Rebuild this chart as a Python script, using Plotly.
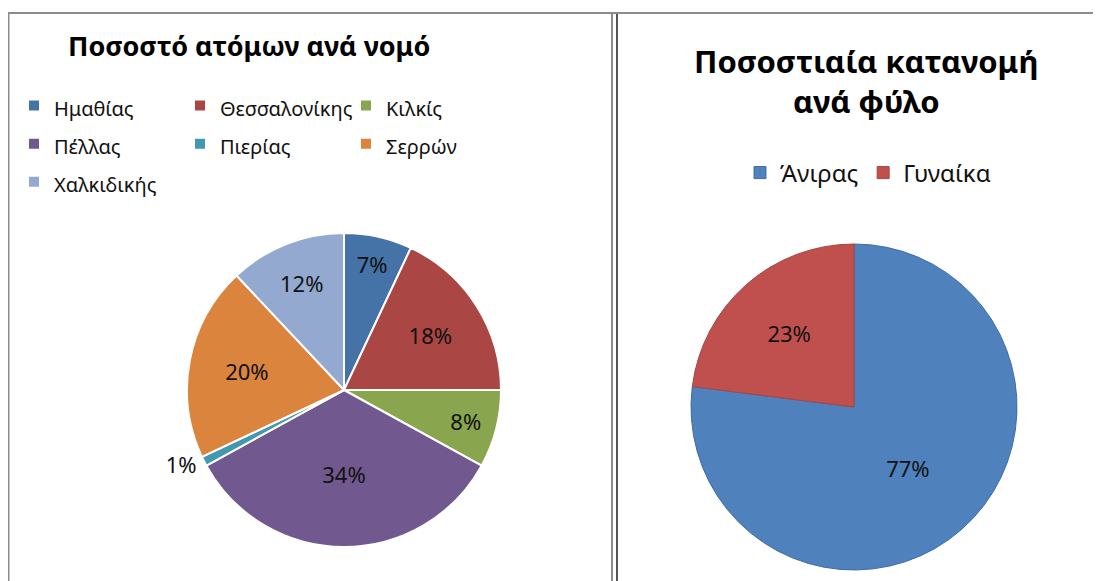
import plotly.graph_objects as go

# ---- data ----
region_labels = ["Ημαθίας", "Θεσσαλονίκης", "Κιλκίς", "Πέλλας", "Πιερίας", "Σερρών", "Χαλκιδικής"]
region_values = [7, 18, 8, 34, 1, 20, 12]
region_colors = ["#4572A7", "#AA4643", "#89A54E", "#71588F", "#4198AF", "#DB843D", "#93A9CF"]

gender_labels = ["Άνιρας", "Γυναίκα"]
gender_values = [77, 23]
gender_colors = ["#4F81BD", "#C0504D"]

title_left = "Ποσοστό ατόμων ανά νομό"
title_right = "Ποσοστιαία κατανομή<br>ανά φύλο"

W, H = 1101, 581
ML = 6                      # left margin (px)
PW = W - ML                 # plot-area width
FONT = "Noto Sans"


def px(x):
    return (x - ML) / PW


def py(y):
    return 1 - y / H


def dom(cx, cy, r):
    return dict(x=[px(cx - r), px(cx + r)], y=[py(cy + r), py(cy - r)])


def styled(lbls, size):
    return ['<span style="font-size:%dpx">%s</span>' % (size, t) for t in lbls]


fig = go.Figure()
fig.add_trace(go.Pie(
    labels=styled(region_labels, 20), values=region_values, sort=False, direction="clockwise", rotation=0,
    marker=dict(colors=region_colors, line=dict(color="white", width=2)),
    texttemplate="%{value}%",
    textposition=["inside", "inside", "inside", "inside", "outside", "inside", "inside"],
    insidetextorientation="horizontal",
    textfont=dict(family=FONT, size=22, color="#111111"),
    domain=dom(336, 382, 157), legend="legend", hoverinfo="percent",
))
fig.add_trace(go.Pie(
    labels=gender_labels, values=gender_values, sort=False, direction="clockwise", rotation=0,
    marker=dict(colors=gender_colors, line=dict(color=["#3E6DA6", "#A84442"], width=1)),
    texttemplate="%{value}%", textposition="inside", insidetextorientation="horizontal",
    textfont=dict(family=FONT, size=22, color="#111111"),
    domain=dom(846, 399, 163), legend="legend2", hoverinfo="label+percent",
))

shapes = [
    dict(x0=0.5, x1=0.5, y0=5, y1=H + 5),
    dict(x0=0, x1=604, y0=5, y1=5),
    dict(x0=604, x1=604, y0=5, y1=H + 5),
    dict(x0=609, x1=609, y0=5, y1=H + 5, line_color="#555555"),
    dict(x0=604, x1=W + 5, y0=5, y1=5),
]
for s in shapes:
    s.update(type="line", xref="paper", yref="paper",
             x0=px(s["x0"]), x1=px(s["x1"]), y0=py(s["y0"]), y1=py(s["y1"]))
    s.setdefault("line_color", "#8C8C8C")
    s["line_width"] = 2
fig.update_layout(shapes=shapes)

fig.update_layout(
    width=W, height=H,
    margin=dict(l=ML, r=0, t=0, b=0, autoexpand=False),
    paper_bgcolor="white", plot_bgcolor="white",
    font=dict(family=FONT, color="#111111"),
    legend=dict(orientation="h", x=-0.00001, xanchor="left", y=py(136), yanchor="middle",
                entrywidth=121, font=dict(family=FONT, size=27, color="#111111"), traceorder="normal"),
    legend2=dict(orientation="h", x=px(732), xanchor="left", y=py(165), yanchor="middle",
                 font=dict(family=FONT, size=24, color="#111111")),
    annotations=[
        dict(text=title_left, x=px(241), y=py(37), xref="paper", yref="paper", showarrow=False,
             font=dict(family=FONT, size=27, color="black", weight="bold"),
             xanchor="center", yanchor="middle"),
        dict(text=title_right, x=px(858), y=py(73), xref="paper", yref="paper", showarrow=False,
             font=dict(family=FONT, size=31, color="black", weight="bold"),
             xanchor="center", yanchor="middle"),
    ],
)

fig.write_html("out.html")
